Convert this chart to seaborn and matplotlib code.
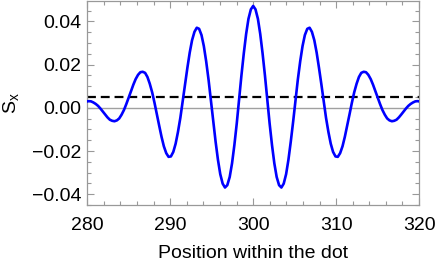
import numpy as np
import pandas as pd
import matplotlib
matplotlib.use('Agg')
import matplotlib.pyplot as plt
import seaborn as sns
from matplotlib.ticker import MultipleLocator

# ================= 数据 =================
# Position within the dot (sampled along the curve)
position = [
    279.88, 280.17, 280.45, 280.73, 281.02, 281.30, 281.58, 281.87, 282.15, 282.43,
    282.72, 283.00, 283.28, 283.57, 283.85, 284.13, 284.42, 284.70, 284.98, 285.27,
    285.55, 285.83, 286.12, 286.40, 286.68, 286.97, 287.25, 287.53, 287.82, 288.10,
    288.38, 288.67, 288.95, 289.23, 289.52, 289.80, 290.08, 290.37, 290.65, 290.93,
    291.22, 291.50, 291.78, 292.07, 292.35, 292.63, 292.92, 293.20, 293.48, 293.77,
    294.05, 294.33, 294.62, 294.90, 295.18, 295.47, 295.75, 296.03, 296.32, 296.60,
    296.88, 297.17, 297.45, 297.73, 298.02, 298.30, 298.58, 298.87, 299.15, 299.43,
    299.72, 300.00,
    300.28, 300.57, 300.85, 301.13, 301.42, 301.70, 301.98, 302.27, 302.55, 302.83,
    303.12, 303.40, 303.68, 303.97, 304.25, 304.53, 304.82, 305.10, 305.38, 305.67,
    305.95, 306.23, 306.52, 306.80, 307.08, 307.37, 307.65, 307.93, 308.22, 308.50,
    308.78, 309.07, 309.35, 309.63, 309.92, 310.20, 310.48, 310.77, 311.05, 311.33,
    311.62, 311.90, 312.18, 312.47, 312.75, 313.03, 313.32, 313.60, 313.88, 314.17,
    314.45, 314.73, 315.02, 315.30, 315.58, 315.87, 316.15, 316.43, 316.72, 317.00,
    317.28, 317.57, 317.85, 318.13, 318.42, 318.70, 318.98, 319.27, 319.55, 319.83,
    320.12,
]

# S_x
s_x = [
    0.0029, 0.0031, 0.0030, 0.0025, 0.0018, 0.0009, -0.0003, -0.0017, -0.0031, -0.0044,
    -0.0055, -0.0060, -0.0062, -0.0058, -0.0049, -0.0032, -0.0010, 0.0017, 0.0046, 0.0077,
    0.0107, 0.0133, 0.0153, 0.0165, 0.0167, 0.0162, 0.0143, 0.0112, 0.0072, 0.0024,
    -0.0029, -0.0083, -0.0134, -0.0178, -0.0210, -0.0227, -0.0225, -0.0204, -0.0166, -0.0112,
    -0.0046, 0.0030, 0.0109, 0.0186, 0.0256, 0.0313, 0.0352, 0.0371, 0.0366, 0.0337,
    0.0286, 0.0216, 0.0130, 0.0035, -0.0063, -0.0157, -0.0240, -0.0307, -0.0351, -0.0369,
    -0.0358, -0.0320, -0.0257, -0.0173, -0.0072, 0.0038, 0.0149, 0.0253, 0.0342, 0.0412,
    0.0456, 0.0472,
    0.0456, 0.0412, 0.0342, 0.0253, 0.0149, 0.0038, -0.0072, -0.0173, -0.0257, -0.0320,
    -0.0358, -0.0369, -0.0351, -0.0307, -0.0240, -0.0157, -0.0063, 0.0035, 0.0130, 0.0216,
    0.0286, 0.0337, 0.0366, 0.0371, 0.0352, 0.0313, 0.0256, 0.0186, 0.0109, 0.0030,
    -0.0046, -0.0112, -0.0166, -0.0204, -0.0225, -0.0227, -0.0210, -0.0178, -0.0134, -0.0083,
    -0.0029, 0.0024, 0.0072, 0.0112, 0.0143, 0.0162, 0.0167, 0.0165, 0.0153, 0.0133,
    0.0107, 0.0077, 0.0046, 0.0017, -0.0010, -0.0032, -0.0049, -0.0058, -0.0062, -0.0060,
    -0.0055, -0.0044, -0.0031, -0.0017, -0.0003, 0.0009, 0.0018, 0.0025, 0.0030, 0.0031,
    0.0029,
]

threshold = 0.005  # dashed reference level
x_ticks = [280, 290, 300, 310, 320]
y_ticks = [-0.04, -0.02, 0.00, 0.02, 0.04]
y_tick_labels = ['\u22120.04', '\u22120.02', '0.00', '0.02', '0.04']


def main():
    sns.set_theme(style='ticks')
    plt.rcParams['font.family'] = ['Liberation Sans', 'DejaVu Sans']
    plt.rcParams['text.color'] = 'black'
    plt.rcParams['axes.labelcolor'] = 'black'

    df = pd.DataFrame({'pos': position, 'sx': s_x})

    fig = plt.figure(figsize=(4.36, 2.63), dpi=100)
    ax = fig.add_axes([0.2002, 0.2205, 0.761, 0.7775])

    ax.axhline(0, color='#a0a0a0', lw=1.0, zorder=1)
    ax.axhline(threshold, color='black', lw=1.6, ls=(0, (4, 2.2)), zorder=2)
    sns.lineplot(data=df, x='pos', y='sx', color='#0000ff', lw=1.9,
                 sort=False, ax=ax, zorder=3)

    ax.set_xlim(280, 320)
    ax.set_ylim(-0.045, 0.0497)

    ax.set_xticks(x_ticks)
    ax.set_xticklabels([str(t) for t in x_ticks])
    ax.set_yticks(y_ticks)
    ax.set_yticklabels(y_tick_labels)
    ax.xaxis.set_minor_locator(MultipleLocator(2))
    ax.yaxis.set_minor_locator(MultipleLocator(0.005))

    ax.tick_params(which='both', direction='in', top=True, right=True,
                   color='#999999', width=0.8, labelsize=14, labelcolor='black')
    ax.tick_params(which='major', length=5)
    ax.tick_params(which='minor', length=3)
    ax.tick_params(axis='x', pad=8.5)
    ax.tick_params(axis='y', pad=4)

    for sp in ax.spines.values():
        sp.set_color('#999999')
        sp.set_linewidth(0.9)

    ax.set_xlabel('Position within the dot', fontsize=14, labelpad=8)
    ax.set_ylabel(r'S$_\mathregular{x}$', fontsize=14, labelpad=7.5)

    fig.savefig('out.png', dpi=100)
    plt.close(fig)


if __name__ == '__main__':
    main()
